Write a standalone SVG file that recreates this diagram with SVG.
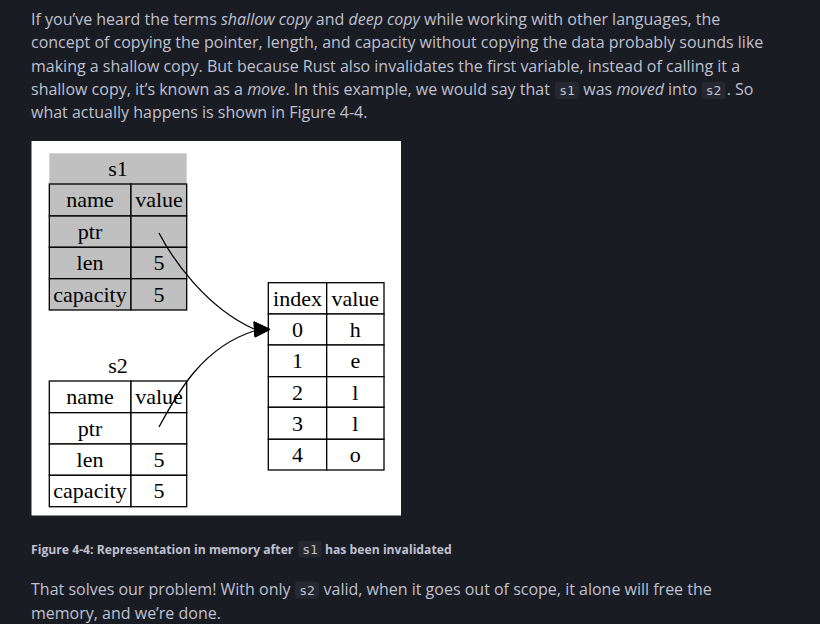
<svg xmlns="http://www.w3.org/2000/svg" width="820" height="624" viewBox="0 0 820 624">
<style>
.p{font-family:"Open Sans","Noto Sans",sans-serif;font-size:16px;fill:#bfc0cf}
.cap{font-family:"Open Sans","Noto Sans",sans-serif;font-size:12.2px;font-weight:bold;fill:#bfc0cf}
.i{font-style:italic}
.code{font-family:"DejaVu Sans Mono","Liberation Mono",monospace;font-size:13px;fill:#bfc0cf}
.cbg{fill:#262830}
.cell{stroke:#000;stroke-width:1.3}
.g{fill:#c0c0c0}
.w{fill:#fff}
.t{font-family:"Liberation Serif","Times New Roman",serif;font-size:22px;fill:#000;text-anchor:middle}
.edge{fill:none;stroke:#000;stroke-width:1.3}
.head{fill:#000;stroke:#000;stroke-width:1}
</style>
<rect width="820" height="624" fill="#1a1c24"/>

<g id="intro">
<text class="p" x="31" y="25">If you’ve heard the terms <tspan class="i">shallow copy</tspan> and <tspan class="i">deep copy</tspan> while working with other languages, the</text>
<text class="p" x="31" y="48.3">concept of copying the pointer, length, and capacity without copying the data probably sounds like</text>
<text class="p" x="31" y="71.7">making a shallow copy. But because Rust also invalidates the first variable, instead of calling it a</text>
<text class="p" x="31" y="95">shallow copy, it’s known as a <tspan class="i">move</tspan>. In this example, we would say that</text>
<rect class="cbg" x="555" y="82" width="24" height="17" rx="3"/>
<text class="code" x="567" y="95" text-anchor="middle">s1</text>
<text class="p" x="583.3" y="95">was <tspan class="i">moved</tspan> into</text>
<rect class="cbg" x="701.5" y="82" width="24" height="17" rx="3"/>
<text class="code" x="713.5" y="95" text-anchor="middle">s2</text>
<text class="p" x="726.7" y="95">. So</text>
<text class="p" x="31" y="118.3">what actually happens is shown in Figure 4-4.</text>
</g>

<rect id="figure-bg" x="31.5" y="141" width="369.5" height="374.5" fill="#fff"/>

<g id="s1">
<rect class="g" x="49.3" y="153.3" width="137.4" height="30.7"/>
<text class="t" x="118" y="176">s1</text>
<rect class="cell g" x="49.3" y="184" width="81.7" height="32"/>
<rect class="cell g" x="131" y="184" width="55.7" height="32"/>
<rect class="cell g" x="49.3" y="216" width="81.7" height="31.3"/>
<rect class="cell g" x="131" y="216" width="55.7" height="31.3"/>
<rect class="cell g" x="49.3" y="247.3" width="81.7" height="31.4"/>
<rect class="cell g" x="131" y="247.3" width="55.7" height="31.4"/>
<rect class="cell g" x="49.3" y="278.7" width="81.7" height="31.3"/>
<rect class="cell g" x="131" y="278.7" width="55.7" height="31.3"/>
<text class="t" x="90" y="207">name</text>
<text class="t" x="159" y="207">value</text>
<text class="t" x="90" y="239">ptr</text>
<text class="t" x="90" y="270">len</text>
<text class="t" x="159" y="270">5</text>
<text class="t" x="90" y="302">capacity</text>
<text class="t" x="159" y="302">5</text>
</g>

<g id="s2">
<text class="t" x="118" y="373">s2</text>
<rect class="cell w" x="49.3" y="381" width="81.7" height="31.7"/>
<rect class="cell w" x="131" y="381" width="55.7" height="31.7"/>
<rect class="cell w" x="49.3" y="412.7" width="81.7" height="31.3"/>
<rect class="cell w" x="131" y="412.7" width="55.7" height="31.3"/>
<rect class="cell w" x="49.3" y="444" width="81.7" height="31.3"/>
<rect class="cell w" x="131" y="444" width="55.7" height="31.3"/>
<rect class="cell w" x="49.3" y="475.3" width="81.7" height="31.4"/>
<rect class="cell w" x="131" y="475.3" width="55.7" height="31.4"/>
<text class="t" x="90" y="404">name</text>
<text class="t" x="159" y="404">value</text>
<text class="t" x="90" y="436">ptr</text>
<text class="t" x="90" y="467">len</text>
<text class="t" x="159" y="467">5</text>
<text class="t" x="90" y="498">capacity</text>
<text class="t" x="159" y="498">5</text>
</g>

<g id="heap">
<rect class="cell w" x="268.3" y="282.7" width="58.4" height="31.3"/>
<rect class="cell w" x="326.7" y="282.7" width="57.3" height="31.3"/>
<rect class="cell w" x="268.3" y="314" width="58.4" height="31"/>
<rect class="cell w" x="326.7" y="314" width="57.3" height="31"/>
<rect class="cell w" x="268.3" y="345" width="58.4" height="31.7"/>
<rect class="cell w" x="326.7" y="345" width="57.3" height="31.7"/>
<rect class="cell w" x="268.3" y="376.7" width="58.4" height="30.6"/>
<rect class="cell w" x="326.7" y="376.7" width="57.3" height="30.6"/>
<rect class="cell w" x="268.3" y="407.3" width="58.4" height="32"/>
<rect class="cell w" x="326.7" y="407.3" width="57.3" height="32"/>
<rect class="cell w" x="268.3" y="439.3" width="58.4" height="30.7"/>
<rect class="cell w" x="326.7" y="439.3" width="57.3" height="30.7"/>
<text class="t" x="297.5" y="306">index</text>
<text class="t" x="355.3" y="306">value</text>
<text class="t" x="297.5" y="337">0</text>
<text class="t" x="355.3" y="337">h</text>
<text class="t" x="297.5" y="368">1</text>
<text class="t" x="355.3" y="368">e</text>
<text class="t" x="297.5" y="400">2</text>
<text class="t" x="355.3" y="400">l</text>
<text class="t" x="297.5" y="431">3</text>
<text class="t" x="355.3" y="431">l</text>
<text class="t" x="297.5" y="462">4</text>
<text class="t" x="355.3" y="462">o</text>
</g>

<g id="connectors">
<path class="edge" d="M159,233 C172,258 205,307 254,329"/>
<polygon class="head" points="254,321.8 270,329.4 255,337"/>
<path class="edge" d="M159,427 C175,398 200,348 254,331"/>
<polygon class="head" points="254,321.8 270,329.4 255,337"/>
</g>

<g id="caption">
<text class="cap" x="31" y="554">Figure 4-4: Representation in memory after</text>
<rect class="cbg" x="298.5" y="541" width="23" height="16.5" rx="3"/>
<text class="code" x="310" y="554" text-anchor="middle" font-size="11.5">s1</text>
<text class="cap" x="325" y="554">has been invalidated</text>
</g>

<g id="outro">
<text class="p" x="31" y="595">That solves our problem! With only</text>
<rect class="cbg" x="295" y="581.5" width="24" height="17" rx="3"/>
<text class="code" x="307" y="595" text-anchor="middle">s2</text>
<text class="p" x="323.5" y="595">valid, when it goes out of scope, it alone will free the</text>
<text class="p" x="31" y="619">memory, and we’re done.</text>
</g>
</svg>
